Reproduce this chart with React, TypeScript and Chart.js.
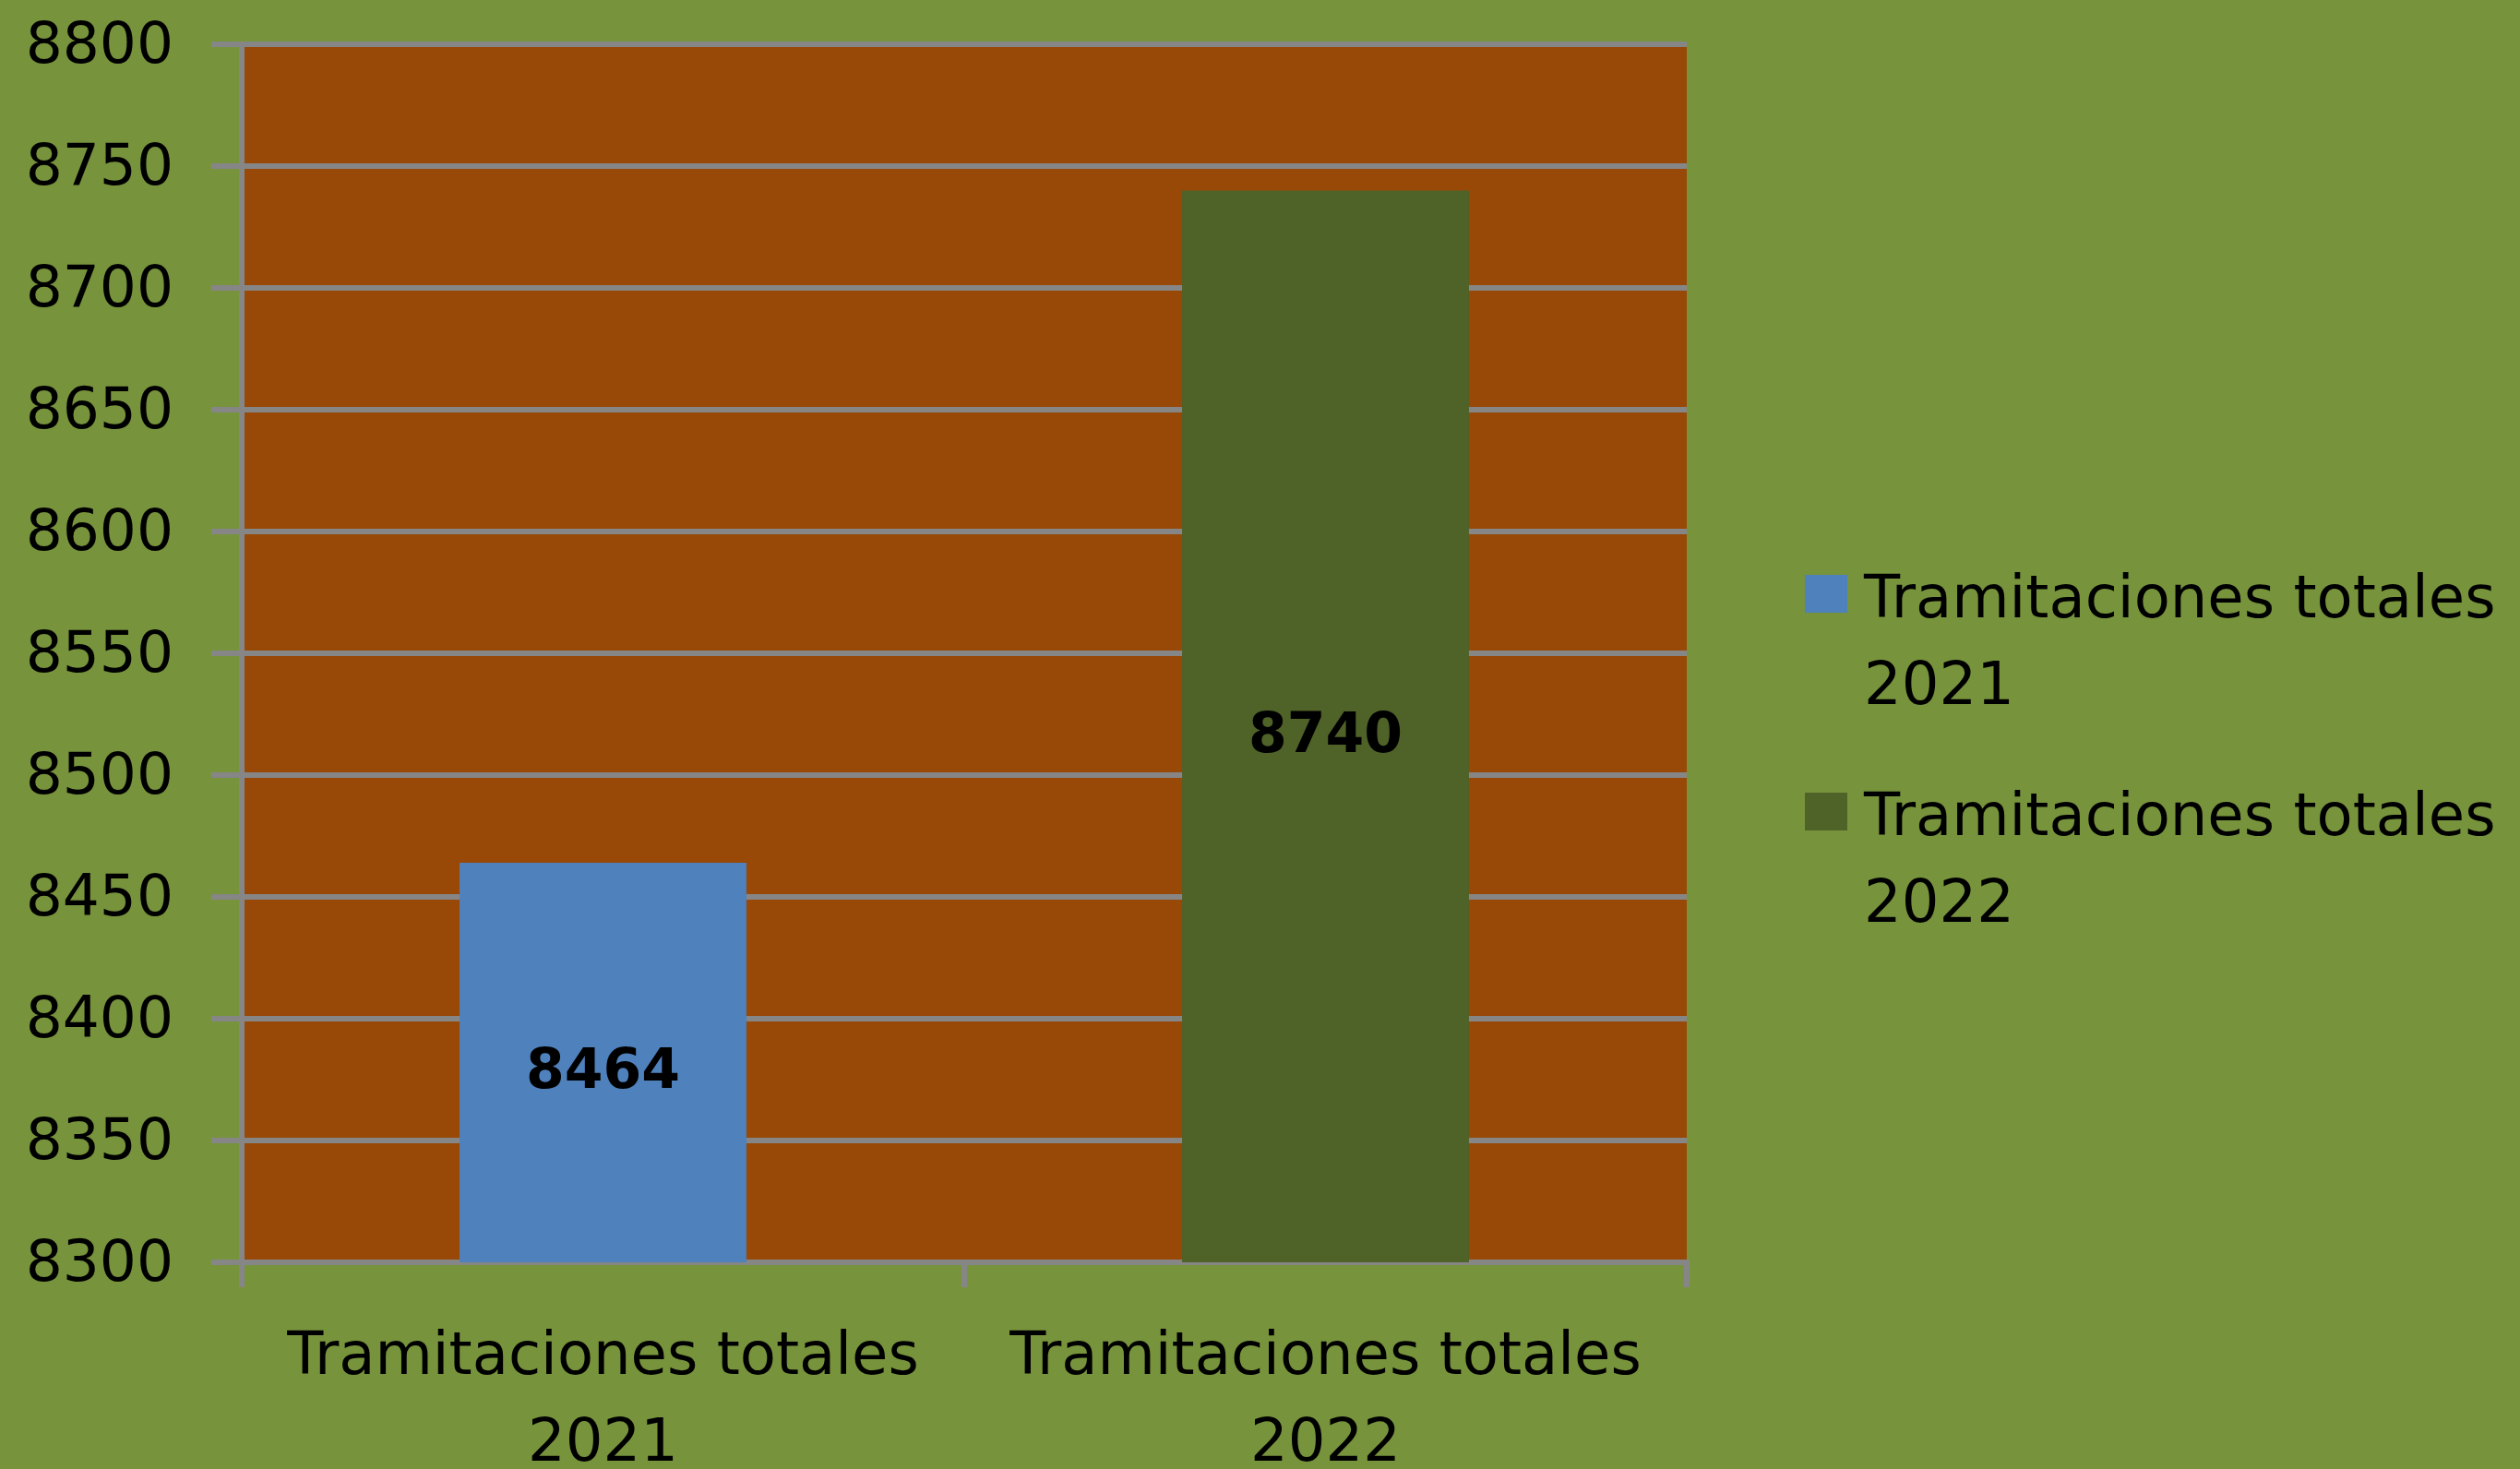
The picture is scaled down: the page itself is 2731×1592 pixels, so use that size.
import React, { useEffect, useRef } from "react";
import { Chart, registerables } from "chart.js";

Chart.register(...registerables);

// ---- data ----
const categories: string[][] = [
  ["Tramitaciones totales", "2021"],
  ["Tramitaciones totales", "2022"],
];
const values: number[] = [8464, 8740];
const barColors: string[] = ["#4F81BD", "#4F6228"];
const yMin = 8300;
const yMax = 8800;
const yStep = 50;

// ---- styles ----
const PAGE_BG = "#77933C";
const PLOT_BG = "#984807";
const GRID = "#868686";
const FONT = '"DejaVu Sans", Verdana, sans-serif';

const backgroundPlugin = {
  id: "bgPlugin",
  beforeDraw(chart: any) {
    const { ctx, chartArea } = chart;
    ctx.save();
    ctx.fillStyle = PAGE_BG;
    ctx.fillRect(0, 0, chart.width, chart.height);
    ctx.fillStyle = PLOT_BG;
    ctx.fillRect(chartArea.left, chartArea.top, chartArea.right - chartArea.left, chartArea.bottom - chartArea.top);
    ctx.restore();
  },
};

const valueLabelPlugin = {
  id: "barValueText",
  afterDraw(chart: any) {
    const ctx: CanvasRenderingContext2D = chart.ctx;
    const xScale = chart.scales.x;
    const yScale = chart.scales.y;
    const data = chart.data.datasets[0].data as number[];
    ctx.save();
    ctx.font = "bold 60px 'DejaVu Sans'";
    ctx.fillStyle = "#000000";
    ctx.textAlign = "center";
    ctx.textBaseline = "middle";
    for (let i = 0; i < data.length; i++) {
      const v = Number(data[i]);
      const x = xScale.getPixelForValue(i);
      const top = yScale.getPixelForValue(v);
      const base = yScale.getPixelForValue(yScale.min);
      const cy = (top + base) / 2 + 12;
      ctx.fillText(String(v), x, cy);
    }
    ctx.restore();
  },
};

const legendPlugin = {
  id: "sideLegend",
  afterDraw(chart: any) {
    const { ctx, chartArea } = chart;
    const labels = chart.data.labels as string[][];
    const colors = chart.data.datasets[0].backgroundColor as string[];
    const boxX = chartArea.right + 128;
    const textX = chartArea.right + 192;
    const firstTop = 623;
    const itemGap = 236;
    const lineGap = 94;
    ctx.save();
    ctx.font = `64px ${FONT}`;
    ctx.textAlign = "left";
    ctx.textBaseline = "alphabetic";
    labels.forEach((lab, i) => {
      const top = firstTop + i * itemGap;
      ctx.fillStyle = colors[i];
      ctx.fillRect(boxX, top, 46, 41);
      ctx.fillStyle = "#000000";
      lab.forEach((line, j) => {
        ctx.fillText(line, textX, top + 46 + j * lineGap);
      });
    });
    ctx.restore();
  },
};

export default function App() {
  const canvasRef = useRef<HTMLCanvasElement | null>(null);

  useEffect(() => {
    if (!canvasRef.current) return;
    const chart = new Chart(canvasRef.current, {
      type: "bar",
      data: {
        labels: categories,
        datasets: [
          {
            label: "Tramitaciones totales",
            data: values,
            backgroundColor: barColors,
            borderWidth: 0,
            barPercentage: 0.397,
            categoryPercentage: 1,
          },
        ],
      },
      options: {
        animation: false,
        responsive: false,
        devicePixelRatio: 1,
        layout: { padding: { top: 48, right: 903, bottom: 0, left: 0 } },
        plugins: {
          legend: { display: false },
          tooltip: { enabled: false },
        },
        scales: {
          x: {
            grid: {
              display: true,
              drawOnChartArea: false,
              drawTicks: true,
              tickLength: 27,
              color: GRID,
              lineWidth: 6,
              offset: true,
            },
            border: { display: true, color: GRID, width: 6 },
            ticks: {
              color: "#000000",
              font: { family: FONT, size: 64, lineHeight: 1.47 },
              padding: 30,
              maxRotation: 0,
              autoSkip: false,
            },
            afterFit(scale: any) {
              scale.height = 224;
              scale.paddingLeft = 0;
              scale.paddingRight = 0;
            },
          },
          y: {
            min: yMin,
            max: yMax,
            grid: {
              display: true,
              drawOnChartArea: true,
              drawTicks: true,
              tickLength: 33,
              color: GRID,
              lineWidth: 6,
            },
            border: { display: true, color: GRID, width: 6 },
            ticks: {
              stepSize: yStep,
              color: "#000000",
              font: { family: FONT, size: 63 },
              padding: 41,
              labelOffset: 4,
              callback: (v: any) => String(v),
            },
            afterFit(scale: any) {
              scale.width = 262;
              scale.paddingTop = 0;
              scale.paddingBottom = 0;
            },
          },
        },
      },
      plugins: [backgroundPlugin, valueLabelPlugin, legendPlugin],
    });
    return () => chart.destroy();
  }, []);

  return (
    <div style={{ position: "fixed", left: 0, top: 0, width: 2731, height: 1592, background: PAGE_BG }}>
      <canvas ref={canvasRef} width={2731} height={1592} style={{ display: "block", width: 2731, height: 1592 }} />
    </div>
  );
}
